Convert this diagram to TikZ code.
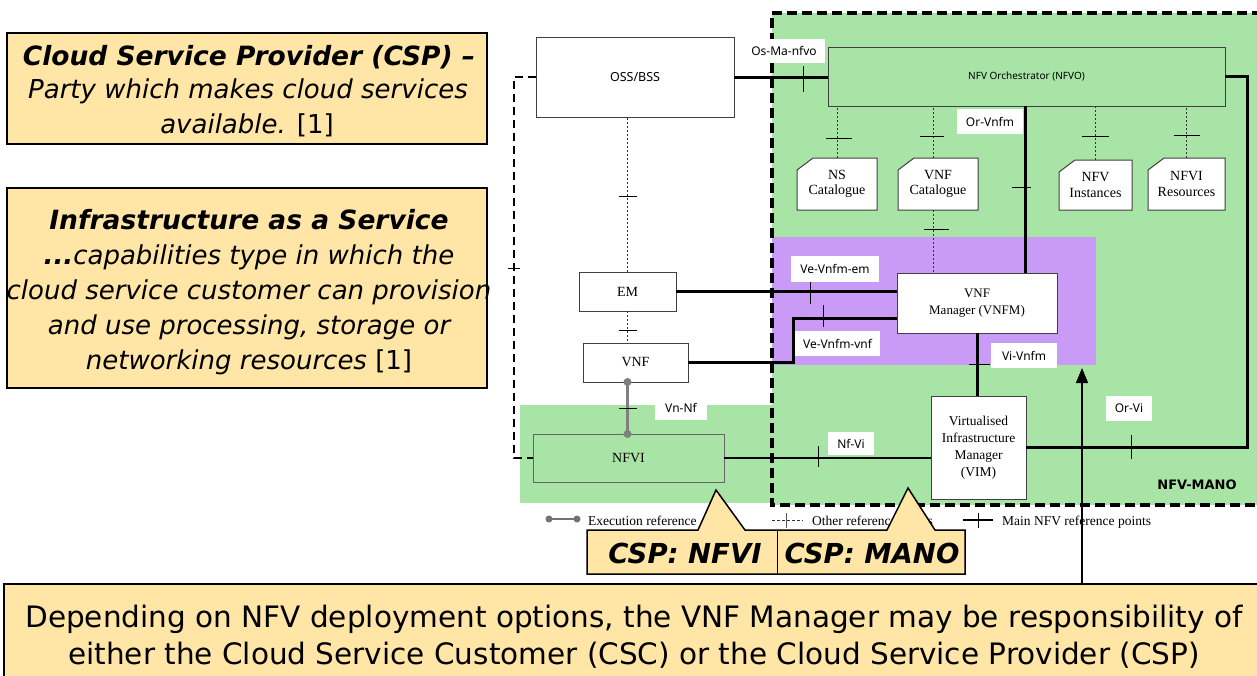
\documentclass[tikz,border=0pt]{standalone}
\usepackage{fontspec}
\setmainfont{Liberation Serif}
\newfontfamily\lblfont{Noto Sans}
\newfontfamily\vfont{DejaVu Sans}
\usetikzlibrary{arrows.meta,calc}
\definecolor{mgreen}{HTML}{A8E4A5}
\definecolor{mpurple}{HTML}{C99BF7}
\definecolor{myellow}{HTML}{FFE5A6}
\definecolor{bord}{HTML}{404040}
\begin{document}
\begin{tikzpicture}[x=1pt,y=-1pt,
  box/.style={draw=bord, line width=1pt, fill=white, inner sep=0pt, outer sep=0pt, align=center, anchor=north west, font=\fontsize{14}{16}\selectfont},
  docshape/.style={draw=none, inner sep=0pt, outer sep=0pt, anchor=north west},
  doctext/.style={align=center, inner sep=0pt, font=\fontsize{14}{15.5}\selectfont},
  lbl/.style={fill=white, inner sep=0pt, outer sep=0pt, anchor=north west, font=\lblfont\fontsize{12}{14}\selectfont},
  thickln/.style={line width=3pt},
  dotln/.style={draw=black!80, line width=0.9pt, dash pattern=on 2pt off 2pt},
  tickln/.style={line width=1pt},
  manoborder/.style={line width=3.5pt, dash pattern=on 10pt off 5pt},
  leftdash/.style={line width=2.2pt, dash pattern=on 8pt off 5pt},
  execln/.style={draw=black!50, line width=2.5pt},
  ybox/.style={draw=black, line width=1.5pt, fill=myellow},
  bigbi/.style={font=\vfont\bfseries\itshape\fontsize{26.5}{34}\selectfont, anchor=base, inner sep=0pt},
  bigi/.style={font=\vfont\itshape\fontsize{26}{34}\selectfont, anchor=base, inner sep=0pt},
  legtext/.style={anchor=base west, inner sep=0pt, font=\fontsize{13.5}{15}\selectfont}
]
\useasboundingbox (0,0) rectangle (1257,675);
\fill[white] (0,0) rectangle (1257,675);

% regions
\fill[mgreen] (772,13) rectangle (1257,505);
\fill[mgreen] (520,405) rectangle (772,503);
\fill[mpurple] (772,237) rectangle (1096,365);
\draw[manoborder] (1262,13) -- (772,13) -- (772,505) -- (1262,505);

% boxes
\node[box, minimum width=198pt, minimum height=80pt, font=\lblfont\fontsize{12.5}{14}\selectfont] (oss) at (536,37) {OSS/BSS};
\node[box, fill=none, minimum width=397pt, minimum height=59pt, font=\lblfont\fontsize{10}{12}\selectfont] (nfvo) at (828,47) {NFV Orchestrator (NFVO)};
\node[box, minimum width=97pt, minimum height=39pt] (em) at (579,272) {EM};
\node[box, minimum width=105pt, minimum height=39pt] (vnf) at (583,343) {VNF};
\node[box, draw=black!60, fill=mgreen, minimum width=191pt, minimum height=48pt] (nfvi) at (533,434) {NFVI};
\node[box, minimum width=160pt, minimum height=60pt, font=\fontsize{13}{17}\selectfont] (vnfm) at (897,273) {VNF\\Manager (VNFM)};
\node[box, minimum width=95pt, minimum height=103pt, font=\fontsize{13.5}{17}\selectfont] (vim) at (931,396) {Virtualised\\Infrastructure\\Manager\\(VIM)};

% catalogues (document shapes)
\node[docshape, minimum width=80pt, minimum height=52pt] (ns) at (797,158) {};
\node[docshape, minimum width=80pt, minimum height=52pt] (vnfc) at (898,158) {};
\node[docshape, minimum width=73pt, minimum height=50pt] (nfvin) at (1059,160) {};
\node[docshape, minimum width=77pt, minimum height=52pt] (nfvir) at (1148,158) {};
\foreach \d in {ns,vnfc,nfvin,nfvir}{
  \draw[draw=bord, line width=1pt, fill=white] ($(\d.north west)+(0,12)$) -- ($(\d.north west)+(16,0)$) -- (\d.north east) -- (\d.south east) -- (\d.south west) -- cycle;
}
\node[doctext] (nst) at (ns) {NS\\Catalogue};
\node[doctext] (vnfct) at (vnfc) {VNF\\Catalogue};
\node[doctext] (nfvint) at (nfvin) {NFV\\Instances};
\node[doctext] (nfvirt) at (nfvir) {NFVI\\Resources};

% connectors
\draw[thickln] (oss.east) -- (oss.east -| nfvo.west);
\draw[tickln] (803,66) -- (803,92);
\coordinate (lc1) at (514,77);
\coordinate (lc2) at (514,458);
\draw[leftdash] (oss.west) -- (lc1) -- (lc2) -- (nfvi.west);
\draw[tickln] (508,268) -- (520,268);

\draw[dotln] (em.north) -- (em.north |- oss.south);
\draw[tickln] (619,196) -- (637,196);
\draw[dotln] (em.south) -- (em.south |- vnf.north);
\draw[tickln] (619,330) -- (637,330);
\coordinate (ex1) at (em.south |- vnf.south);
\coordinate (ex2) at (em.south |- nfvi.north);
\draw[execln] (ex1) -- (ex2);
\fill[black!50] (ex1) circle (4pt) (ex2) circle (4pt);
\draw[tickln] (619,408) -- (637,408);

\draw[thickln] (em.east) -- (em.east -| vnfm.west);
\draw[tickln] (810,279) -- (810,304);
\coordinate (vv) at (793,318);
\draw[thickln] (vnf.east) -| (vv) -- (vv -| vnfm.west);
\draw[tickln] (823,305) -- (823,327);

\coordinate (orv) at (1025,200);
\draw[thickln] (orv |- vnfm.north) -- (orv |- nfvo.south);
\draw[tickln] (1012,187) -- (1031,187);

\draw[thickln] (vnfm.south) -- (vnfm.south |- vim.north);
\draw[tickln] (969,364) -- (990,364);

\coordinate (vr) at (1247,447.5);
\draw[thickln] (vim.east) -- (vr) |- (nfvo.east);
\draw[tickln] (1131,435) -- (1131,459);

\draw[line width=1.5pt] (nfvi.east) -- (nfvi.east -| vim.west);
\draw[tickln] (818,446) -- (818,467);

\draw[dotln] (ns.north) -- (ns.north |- nfvo.south);
\draw[tickln] (826,138) -- (852,138);
\coordinate (vcx) at (933,0);
\draw[dotln] (vcx |- vnfc.north) -- (vcx |- nfvo.south);
\draw[tickln] (920,136) -- (944,136);
\draw[dotln] (vcx |- vnfc.south) -- (vcx |- vnfm.north);
\draw[tickln] (924,229) -- (949,229);
\draw[dotln] (nfvin.north) -- (nfvin.north |- nfvo.south);
\draw[tickln] (1082,136) -- (1109,136);
\draw[dotln] (nfvir.north) -- (nfvir.north |- nfvo.south);
\draw[tickln] (1174,135) -- (1200,135);

% interface labels
\node[lbl, minimum width=82pt, minimum height=24pt] (osma) at (743,39) {Os-Ma-nfvo};
\node[lbl, minimum width=66pt, minimum height=25pt] (orvnfm) at (957,109) {Or-Vnfm};
\node[lbl, minimum width=88pt, minimum height=26pt] (vem) at (791,256) {Ve-Vnfm-em};
\node[lbl, minimum width=85pt, minimum height=25pt] (vevnf) at (795,331) {Ve-Vnfm-vnf};
\node[lbl, minimum width=66pt, minimum height=25pt] (vivnfm) at (991,343) {Vi-Vnfm};
\node[lbl, minimum width=46pt, minimum height=25pt] (orvi) at (1106,396) {Or-Vi};
\node[lbl, minimum width=46pt, minimum height=23pt] (nfvilbl) at (828,432) {Nf-Vi};
\node[lbl, minimum width=52pt, minimum height=24pt] (vnnf) at (655,396) {Vn-Nf};
\node[font=\vfont\bfseries\fontsize{13}{16}\selectfont, inner sep=0pt] (manolbl) at (1197,485) {NFV-MANO};

% legend
\coordinate (le1) at (549,519);
\coordinate (le2) at (577,519);
\draw[draw=black!55, line width=1.5pt] (le1) -- (le2);
\fill[black!55] (le1) circle (3.5pt) (le2) circle (3.5pt);
\node[legtext] (legexec) at (588,525) {Execution reference};
\coordinate (lo1) at (772,520);
\coordinate (lo2) at (803,520);
\draw[dotln, dash pattern=on 3pt off 2pt] (lo1) -- (lo2);
\draw[draw=black!65, line width=0.8pt] (786,513) -- (786,528);
\node[legtext] (legother) at (812,525) {Other reference points};
\coordinate (lm1) at (963,520);
\coordinate (lm2) at (993,520);
\draw[line width=1.5pt] (lm1) -- (lm2);
\draw[tickln] (978,513) -- (978,528);
\node[legtext] (legmain) at (1002,525) {Main NFV reference points};

% left definition boxes
\draw[ybox] (7,33) rectangle (487,144);
\node[bigbi] (d1a) at (249,65) {Cloud Service Provider (CSP) –};
\node[bigi] (d1b) at (248,98) {Party which makes cloud services};
\node[bigi] (d1c) at (247,133) {available. {\upshape[1]}};
\draw[ybox] (7,188) rectangle (487,388);
\node[bigbi] (d2a) at (249,229) {Infrastructure as a Service};
\node[bigi] (d2b) at (249,264) {{\bfseries...}capabilities type in which the};
\node[bigi] (d2c) at (249,299) {cloud service customer can provision};
\node[bigi] (d2d) at (249,334) {and use processing, storage or};
\node[bigi] (d2e) at (249,369) {networking resources {\upshape[1]}};

% callouts
\draw[ybox, line join=miter] (587,530) -- (698,530) -- (716,490) -- (745,530) -- (887,530) -- (908,488) -- (935,530) -- (965,530) -- (965,574) -- (587,574) -- cycle;
\draw[line width=1pt] (777,530) -- (777,574);
\node[font=\vfont\bfseries\itshape\fontsize{27.5}{30}\selectfont, anchor=base, inner sep=0pt] (cspnfvi) at (685,563) {CSP: NFVI};
\node[font=\vfont\bfseries\itshape\fontsize{27.5}{30}\selectfont, anchor=base, inner sep=0pt] (cspmano) at (872,563) {CSP: MANO};

% bottom box
\fill[myellow] (4,584) rectangle (1262,680);
\draw[line width=1.5pt] (4,680) -- (4,584) -- (1262,584);
\node[font=\vfont\fontsize{29.5}{38}\selectfont, anchor=base, inner sep=0pt] (b1) at (634,627) {Depending on NFV deployment options, the VNF Manager may be responsibility of};
\node[font=\vfont\fontsize{29.5}{38}\selectfont, anchor=base, inner sep=0pt] (b2) at (634,664) {either the Cloud Service Customer (CSC) or the Cloud Service Provider (CSP)};

\coordinate (arrS) at (1082,584);
\coordinate (arrE) at (1082,368);
\draw[line width=1.5pt, -{Triangle[length=15pt,width=12pt]}] (arrS) -- (arrE);
\end{tikzpicture}
\end{document}
